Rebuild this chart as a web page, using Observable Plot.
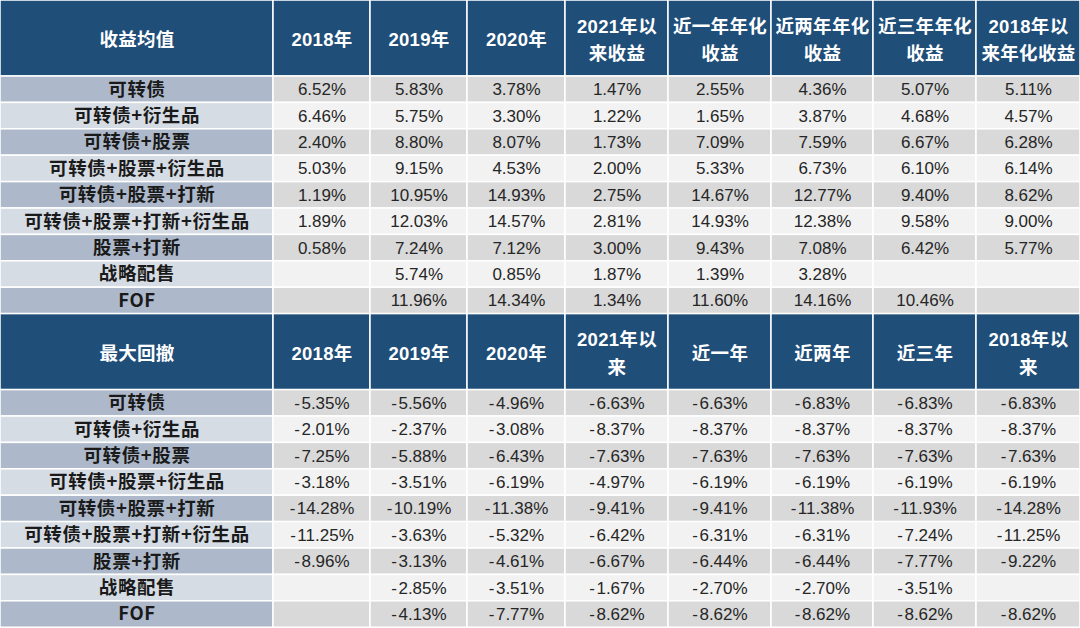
<!DOCTYPE html>
<html><head><meta charset="utf-8">
<script src="https://cdn.jsdelivr.net/npm/d3@7"></script>
<script src="https://cdn.jsdelivr.net/npm/@observablehq/plot@0.6"></script>
<style>html,body{margin:0;padding:0;background:#fff;overflow:hidden}
.lbl text{letter-spacing:0.6px}
.hdr text{letter-spacing:0.3px}
</style>
</head><body><div id="chart"></div>
<script>
// ---- data ----
const strategies = ["可转债","可转债+衍生品","可转债+股票","可转债+股票+衍生品","可转债+股票+打新","可转债+股票+打新+衍生品","股票+打新","战略配售","FOF"];
const returnHeaders = ["收益均值","2018年","2019年","2020年","2021年以\n来收益","近一年年化\n收益","近两年年化\n收益","近三年年化\n收益","2018年以\n来年化收益"];
const drawdownHeaders = ["最大回撤","2018年","2019年","2020年","2021年以\n来","近一年","近两年","近三年","2018年以\n来"];
const returnValues = [
  [6.52, 5.83, 3.78, 1.47, 2.55, 4.36, 5.07, 5.11],
  [6.46, 5.75, 3.30, 1.22, 1.65, 3.87, 4.68, 4.57],
  [2.40, 8.80, 8.07, 1.73, 7.09, 7.59, 6.67, 6.28],
  [5.03, 9.15, 4.53, 2.00, 5.33, 6.73, 6.10, 6.14],
  [1.19, 10.95, 14.93, 2.75, 14.67, 12.77, 9.40, 8.62],
  [1.89, 12.03, 14.57, 2.81, 14.93, 12.38, 9.58, 9.00],
  [0.58, 7.24, 7.12, 3.00, 9.43, 7.08, 6.42, 5.77],
  [null, 5.74, 0.85, 1.87, 1.39, 3.28, null, null],
  [null, 11.96, 14.34, 1.34, 11.60, 14.16, 10.46, null]
];
const drawdownValues = [
  [-5.35, -5.56, -4.96, -6.63, -6.63, -6.83, -6.83, -6.83],
  [-2.01, -2.37, -3.08, -8.37, -8.37, -8.37, -8.37, -8.37],
  [-7.25, -5.88, -6.43, -7.63, -7.63, -7.63, -7.63, -7.63],
  [-3.18, -3.51, -6.19, -4.97, -6.19, -6.19, -6.19, -6.19],
  [-14.28, -10.19, -11.38, -9.41, -9.41, -11.38, -11.93, -14.28],
  [-11.25, -3.63, -5.32, -6.42, -6.31, -6.31, -7.24, -11.25],
  [-8.96, -3.13, -4.61, -6.67, -6.44, -6.44, -7.77, -9.22],
  [null, -2.85, -3.51, -1.67, -2.70, -2.70, -3.51, null],
  [null, -4.13, -7.77, -8.62, -8.62, -8.62, -8.62, -8.62]
];

// ---- layout (styles, not data) ----
const W = 1080, H = 628;
const colWidths = [273, 97, 97, 98, 103, 103, 102, 103, 104];
const headerH = 76, rowH = 26.4;
const colEdges = [0]; colWidths.forEach(w => colEdges.push(colEdges[colEdges.length-1] + w));
const C = {
  header: "#1F4E79",
  labelOdd: "#ADB9CA", labelEven: "#D6DCE4",
  cellOdd: "#D9D9D9", cellEven: "#F2F2F2",
  text: "#262626"
};
const fmt = v => v == null ? "" : (v < 0 ? "-\u200A" : "") + Math.abs(v).toFixed(2) + "%";

const rects = [], headerTexts = [], labelTexts = [], valueTexts = [];
function addSection(headers, values, y0) {
  headers.forEach((h, j) => {
    const c = {x1: colEdges[j], x2: colEdges[j+1], y1: y0, y2: y0 + headerH, fill: C.header};
    rects.push(c);
    headerTexts.push({...c, text: h});
  });
  strategies.forEach((s, i) => {
    const y1 = y0 + headerH + i * rowH, y2 = y1 + rowH;
    const odd = i % 2 === 0;
    const lc = {x1: colEdges[0], x2: colEdges[1], y1, y2, fill: odd ? C.labelOdd : C.labelEven};
    rects.push(lc);
    labelTexts.push({...lc, text: s});
    values[i].forEach((v, j) => {
      const c = {x1: colEdges[j+1], x2: colEdges[j+2], y1, y2, fill: odd ? C.cellOdd : C.cellEven};
      rects.push(c);
      valueTexts.push({...c, text: fmt(v)});
    });
  });
  return y0 + headerH + strategies.length * rowH;
}
const yMid = addSection(returnHeaders, returnValues, 0);
addSection(drawdownHeaders, drawdownValues, yMid);

const cx = d => (d.x1 + d.x2) / 2, cy = d => (d.y1 + d.y2) / 2;
const cjk = "'Noto Sans CJK SC', 'Liberation Sans', sans-serif";

const chart = Plot.plot({
  width: W, height: H,
  margin: 0,
  x: {type: "linear", domain: [0, W], range: [0, W], axis: null},
  y: {type: "linear", domain: [0, H], range: [0, H], axis: null},
  color: {type: "identity"},
  style: {background: "#fff"},
  marks: [
    Plot.rect(rects, {x1: "x1", x2: "x2", y1: "y1", y2: "y2", fill: "fill", stroke: "#ffffff", strokeWidth: 1.5}),
    Plot.text(headerTexts, {x: cx, y: d => cy(d) - 1, text: "text", fill: "#ffffff", fontSize: 18.5, fontWeight: "bold", fontFamily: "'Liberation Sans', 'Noto Sans CJK SC', sans-serif", lineHeight: 1.5, className: "hdr"}),
    Plot.text(labelTexts, {x: cx, y: cy, text: "text", fill: "#1a1a1a", fontSize: 18.5, fontWeight: "bold", fontFamily: cjk, className: "lbl"}),
    Plot.text(valueTexts, {x: cx, y: cy, text: "text", fill: C.text, fontSize: 17, fontFamily: "'Liberation Sans', sans-serif"})
  ]
});
document.getElementById("chart").appendChild(chart);
</script>
</body></html>
